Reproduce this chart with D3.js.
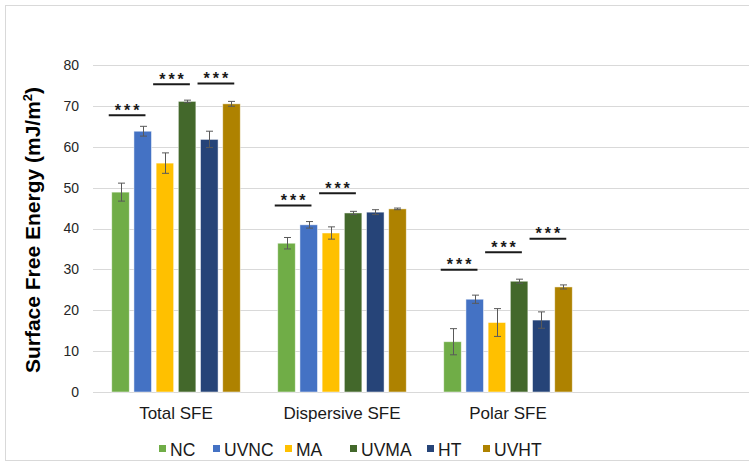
<!DOCTYPE html>
<html>
<head>
<meta charset="utf-8">
<script src="https://cdn.jsdelivr.net/npm/d3@7"></script>
<style>
  html, body { margin: 0; padding: 0; background: #fff; }
  svg { display: block; font-family: "Liberation Sans", Arial, sans-serif; }
</style>
</head>
<body>
<svg id="chart" width="749" height="464"></svg>
<script>
// Surface free energy components per treatment
const categories = ["Total SFE", "Dispersive SFE", "Polar SFE"];
const seriesNames = ["NC", "UVNC", "MA", "UVMA", "HT", "UVHT"];
const seriesColors = ["#70ad47", "#4472c4", "#ffc000", "#43682b", "#264478", "#ae8200"];
// values[series][category]
const values = [
  [48.9, 36.4, 12.3],
  [63.8, 40.9, 22.7],
  [56.0, 38.9, 17.0],
  [71.1, 43.8, 27.1],
  [61.8, 44.0, 17.6],
  [70.5, 44.8, 25.7]
];
const errors = [
  [2.2, 1.4, 3.2],
  [1.2, 0.8, 1.0],
  [2.5, 1.5, 3.4],
  [0.3, 0.4, 0.5],
  [2.0, 0.6, 2.0],
  [0.6, 0.2, 0.5]
];
const yTicks = [0, 10, 20, 30, 40, 50, 60, 70, 80];
// significance brackets: category, from series, to series, bracket level (mJ/m²)
const sigCategory = ["Total SFE", "Total SFE", "Total SFE", "Dispersive SFE", "Dispersive SFE", "Polar SFE", "Polar SFE", "Polar SFE"];
const sigFrom = ["NC", "MA", "HT", "NC", "MA", "NC", "MA", "HT"];
const sigTo = ["UVNC", "UVMA", "UVHT", "UVNC", "UVMA", "UVNC", "UVMA", "UVHT"];
const sigLevel = [67.7, 75.3, 75.5, 45.6, 48.6, 29.9, 34.2, 37.5];
const sigLabel = "***";

const svg = d3.select("#chart");
const W = 749, H = 464;

// outer chart frame
svg.append("rect")
  .attr("x", 5.5).attr("y", 5.5)
  .attr("width", W + 10).attr("height", 455)
  .attr("fill", "#fff").attr("stroke", "#d9d9d9").attr("stroke-width", 1);

const plotLeft = 93, groupW = 166;
const y = d3.scaleLinear().domain([0, 80]).range([392, 65]);
const x0 = d3.scaleBand().domain(categories)
  .range([plotLeft, plotLeft + groupW * categories.length]);
const x1 = d3.scaleBand().domain(seriesNames)
  .range([0, x0.bandwidth()]).paddingInner(0.21).paddingOuter(0.844);

// value axis labels and gridlines across the plot area
const yAxis = d3.axisLeft(y).tickValues(yTicks).tickSize(0).tickPadding(14);
const gy = svg.append("g").attr("transform", `translate(${plotLeft},0)`).call(yAxis);
gy.select(".domain").remove();
gy.selectAll("text").attr("font-size", 14).attr("fill", "#262626")
  .attr("font-family", "Liberation Sans, Arial, sans-serif");
svg.append("g").selectAll("line").data(yTicks).join("line")
  .attr("x1", plotLeft).attr("x2", W)
  .attr("y1", d => Math.round(y(d)) + 0.5).attr("y2", d => Math.round(y(d)) + 0.5)
  .attr("stroke", "#d9d9d9").attr("stroke-width", 1);

// bars
const rows = [];
seriesNames.forEach((s, si) => categories.forEach((c, ci) => {
  rows.push({ s, c, v: values[si][ci], e: errors[si][ci], color: seriesColors[si] });
}));
svg.append("g").selectAll("rect").data(rows).join("rect")
  .attr("x", d => x0(d.c) + x1(d.s))
  .attr("width", x1.bandwidth())
  .attr("y", d => y(d.v))
  .attr("height", d => y(0) - y(d.v))
  .attr("fill", d => d.color)
  .attr("stroke", "#ffffff").attr("stroke-opacity", 0.6).attr("stroke-width", 0.8);

// error bars
const eg = svg.append("g").attr("stroke", "#595959").attr("stroke-width", 1).attr("fill", "none");
rows.forEach(d => {
  const cx = Math.round(x0(d.c) + x1(d.s) + x1.bandwidth() / 2) + 0.5;
  const top = y(d.v + d.e), bot = y(d.v - d.e);
  eg.append("line").attr("x1", cx).attr("x2", cx).attr("y1", top).attr("y2", bot);
  eg.append("line").attr("x1", cx - 3.5).attr("x2", cx + 3.5).attr("y1", top).attr("y2", top);
  eg.append("line").attr("x1", cx - 3.5).attr("x2", cx + 3.5).attr("y1", bot).attr("y2", bot);
});

// significance brackets
const sg = svg.append("g");
const starSpacing = 3;
sigCategory.forEach((c, i) => {
  const xa = x0(c) + x1(sigFrom[i]) - 3;
  const xb = x0(c) + x1(sigTo[i]) + x1.bandwidth() - 6;
  const ly = y(sigLevel[i]);
  sg.append("line").attr("x1", xa).attr("x2", xb).attr("y1", ly).attr("y2", ly)
    .attr("stroke", "#1a1a1a").attr("stroke-width", 2);
  sg.append("text").attr("x", (xa + xb) / 2 + starSpacing / 2).attr("y", ly + 0.5)
    .attr("text-anchor", "middle").attr("font-size", 16).attr("font-weight", "bold")
    .attr("letter-spacing", starSpacing).attr("fill", "#1a1a1a").text(sigLabel);
});

// category labels
svg.append("g").selectAll("text").data(categories).join("text")
  .attr("x", d => x0(d) + x0.bandwidth() / 2)
  .attr("y", 419)
  .attr("text-anchor", "middle").attr("font-size", 17).attr("fill", "#1a1a1a")
  .text(d => d);

// y-axis title
const yt = svg.append("text")
  .attr("transform", "translate(40,230) rotate(-90)")
  .attr("text-anchor", "middle").attr("font-size", 21).attr("font-weight", "bold")
  .attr("fill", "#000");
yt.append("tspan").text("Surface Free Energy (mJ/m");
yt.append("tspan").attr("font-size", 13).attr("dy", -8).text("2");
yt.append("tspan").attr("dy", 8).text(")");

// legend
const legendX = [159, 213, 285, 350, 427, 483];
const lg = svg.append("g");
seriesNames.forEach((s, i) => {
  lg.append("rect").attr("x", legendX[i]).attr("y", 445).attr("width", 7).attr("height", 7)
    .attr("fill", seriesColors[i]);
  lg.append("text").attr("x", legendX[i] + 11).attr("y", 456)
    .attr("font-size", 17.5).attr("fill", "#1a1a1a").text(s);
});
</script>
</body>
</html>
